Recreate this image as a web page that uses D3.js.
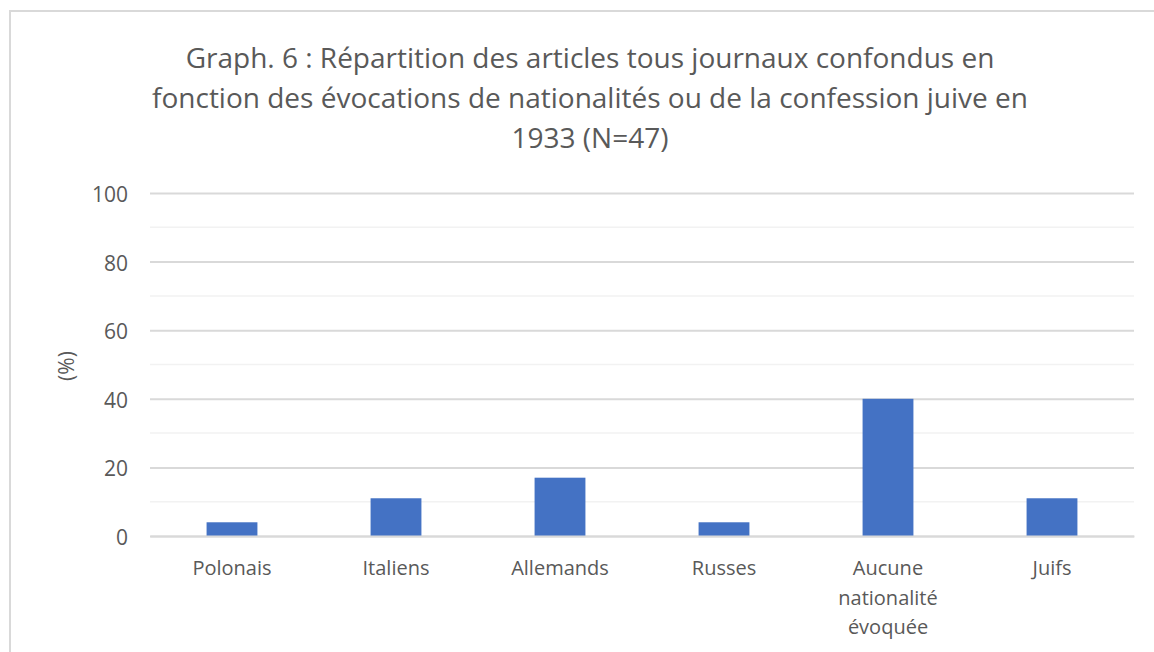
<!DOCTYPE html>
<html>
<head>
<meta charset="utf-8">
<script src="https://cdn.jsdelivr.net/npm/d3@7"></script>
<style>
  body { margin: 0; background: #fff; }
  text { font-family: "Open Sans", sans-serif; fill: #595959; }
</style>
</head>
<body>
<svg class="chart"></svg>
<script>
var width = 1154, height = 652;

// data
var categories = ["Polonais", "Italiens", "Allemands", "Russes", "Aucune nationalité évoquée", "Juifs"];
var categoryLines = [["Polonais"], ["Italiens"], ["Allemands"], ["Russes"], ["Aucune", "nationalité", "évoquée"], ["Juifs"]];
var values = [4, 11, 17, 4, 40, 11];
var yTicks = [0, 20, 40, 60, 80, 100];
var yMinor = [10, 30, 50, 70, 90];
var titleLines = [
  "Graph. 6 : Répartition des articles tous journaux confondus en",
  "fonction des évocations de nationalités ou de la confession juive en",
  "1933 (N=47)"
];

var chart = d3.select(".chart")
    .attr("width", width)
    .attr("height", height)

// outer frame of the chart area
chart.append("path")
    .attr("d", "M10," + height + " V11 H" + width)
    .attr("fill", "none")
    .attr("stroke", "#d9d9d9")
    .attr("stroke-width", 2)

var x_scale = d3.scaleBand()
    .domain(categories)
    .range([150, 1134])
    .paddingInner(0.69)
    .paddingOuter(0.345)

var y_scale = d3.scaleLinear()
    .domain([0, 100])
    .range([536, 193]);

// minor gridlines
chart.append("g").selectAll("line")
    .data(yMinor)
    .enter().append("line")
    .attr("x1", 150).attr("x2", 1134)
    .attr("y1", function(d) { return y_scale(d); })
    .attr("y2", function(d) { return y_scale(d); })
    .attr("stroke", "#f2f2f2")
    .attr("stroke-width", 1.5)

var y_axis = d3.axisLeft(y_scale)
    .tickValues(yTicks)
    .tickSize(-984)
    .tickPadding(22)

var yg = chart.append("g")
    .attr("transform", "translate(150,0)")
    .call(y_axis)
yg.select(".domain").remove()
yg.selectAll(".tick line")
    .attr("stroke", "#d9d9d9")
    .attr("stroke-width", 2)
yg.selectAll(".tick text")
    .style("font-size", "21px")
    .style("font-family", "'Open Sans', sans-serif")
    .attr("fill", "#595959")
    .attr("dy", "0.4em")

// bars
chart.append("g").selectAll("rect")
    .data(values)
    .enter().append("rect")
    .attr("x", function(d, i) { return x_scale(categories[i]); })
    .attr("width", x_scale.bandwidth())
    .attr("y", function(d) { return y_scale(d); })
    .attr("height", function(d) { return y_scale(0) - y_scale(d); })
    .attr("fill", "#4472c4")

// category axis
var x_axis = d3.axisBottom(x_scale).tickSize(0).tickFormat("")
var xg = chart.append("g")
    .attr("transform", "translate(0," + y_scale(0) + ")")
    .call(x_axis)
xg.select(".domain").attr("stroke", "#d9d9d9").attr("stroke-width", 2)

var labels = chart.append("g").selectAll("text")
    .data(categories)
    .enter().append("text")
    .attr("text-anchor", "middle")
    .attr("x", function(d) { return x_scale(d) + x_scale.bandwidth() / 2; })
    .attr("y", 575)
    .style("font-size", "20px")
labels.selectAll("tspan")
    .data(function(d, i) { return categoryLines[i]; })
    .enter().append("tspan")
    .attr("x", function() { var p = d3.select(this.parentNode); return p.attr("x"); })
    .attr("dy", function(d, i) { return i == 0 ? 0 : 29.5; })
    .text(function(d) { return d; })

// y axis title
chart.append("text")
    .attr("transform", "translate(74,366) rotate(-90)")
    .attr("text-anchor", "middle")
    .style("font-size", "21px")
    .text("(%)")

// title
chart.append("g").selectAll("text")
    .data(titleLines)
    .enter().append("text")
    .attr("text-anchor", "middle")
    .attr("x", 590)
    .attr("y", function(d, i) { return 68 + i * 40; })
    .style("font-size", "28px")
    .text(function(d) { return d; })
</script>
</body>
</html>
